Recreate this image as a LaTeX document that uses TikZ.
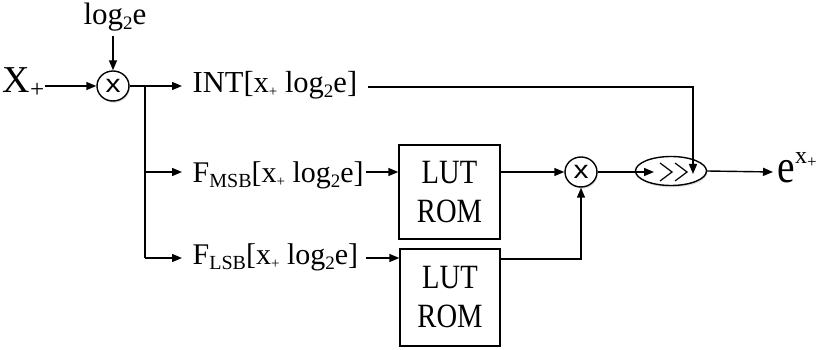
\documentclass[tikz,border=0pt]{standalone}
\usepackage{fontspec}
\setmainfont{Liberation Serif}
\newfontfamily\sansf{Liberation Sans}
\newfontfamily\narrowf[FakeStretch=0.84]{Liberation Serif}
\newfontfamily\plainf{Liberation Serif}
\usetikzlibrary{arrows.meta,shapes.geometric,shadows}
\newcommand{\sbx}[2]{\raisebox{#1}{\fontsize{19}{19}\selectfont #2}}
\newcommand{\sbb}[1]{\raisebox{-5pt}{\fontsize{20}{20}\selectfont #1}}
\begin{document}
\begin{tikzpicture}[x=1pt,y=-1pt,
  line width=1.4pt,
  >={Triangle[length=10pt,width=8pt]},
  lbl/.style={inner sep=0pt,anchor=base west,font=\fontsize{30.5}{31}\selectfont},
  flbl/.style={lbl,font=\fontsize{30}{31}\selectfont},
  mult/.style={draw,ellipse,fill=white,minimum width=32pt,minimum height=30pt,inner sep=0pt,
    font=\sansf\fontsize{25}{25}\selectfont,
    drop shadow={opacity=0.25,shadow xshift=0.8pt,shadow yshift=-1.8pt}},
  lut/.style={draw,rectangle,inner sep=0pt,align=center,font=\narrowf\fontsize{34}{39}\selectfont}]
\useasboundingbox (0,0) rectangle (820,350);
% inputs
\node[inner sep=0pt,anchor=base west,font=\fontsize{38}{38}\selectfont] (xin) at (2,93) {X\raisebox{-5pt}{\fontsize{25}{25}\selectfont +}};
\node[inner sep=0pt,anchor=base,font=\fontsize{31}{31}\selectfont] (lg) at (115,25) {log\sbx{-5pt}{2}e};
\node[mult] (m1) at (113,86) {\scalebox{1.2}[1]{x}};
\coordinate (lgb) at (113,36);
\draw[->] (lgb) -- (m1.north);
\coordinate (xe) at (45,86);
\draw[->] (xe) -- (m1.west);
% labels
\node[lbl] (int) at (192,93) {INT[x\sbx{-4pt}{\fontsize{15}{15}\selectfont +} log\sbx{-5pt}{2}e]};
\node[flbl] (fm) at (192,183) {F\sbb{MSB}[x\sbx{-4pt}{\fontsize{15}{15}\selectfont +} log\sbx{-5pt}{2}e]};
\node[flbl] (fl) at (192,265) {F\sbb{LSB}[x\sbx{-4pt}{\fontsize{15}{15}\selectfont +} log\sbx{-5pt}{2}e]};
\coordinate (br) at (145,86);
\coordinate (intw) at (182,86);
\coordinate (fmw) at (182,172);
\coordinate (flw) at (182,258);
\draw[->] (m1.east) -- (br) -- (intw);
\draw (br) -- (145,258);
\draw[->] (145,172) -- (fmw);
\draw[->] (145,258) -- (flw);
% LUTs
\node[lut,minimum width=101pt,minimum height=94pt] (lut1) at (449.5,192) {LUT\\ROM};
\node[lut,minimum width=100pt,minimum height=97pt] (lut2) at (450,297.5) {LUT\\ROM};
\coordinate (fme) at (366,172);
\coordinate (fle) at (366,258);
\draw[->] (fme) -- (fme -| lut1.west);
\draw[->] (fle) -- (fle -| lut2.west);
% second multiplier
\node[mult] (m2) at (581,172) {\scalebox{1.2}[1]{x}};
\draw[->] (lut1.east |- m2) -- (m2.west);
\coordinate (l2o) at (lut2.east |- 0,259);
\draw[->] (l2o) -- (l2o -| m2) -- (m2.south);
% shifter
\node[draw,ellipse,fill=white,minimum width=71pt,minimum height=29pt,inner sep=0pt,
  drop shadow={opacity=0.25,shadow xshift=0.8pt,shadow yshift=-1.8pt}] (sh) at (671,171) {};
\coordinate (shin) at (654,172);
\draw[->] (m2.east) -- (shin);
\draw[line width=1.2pt] (660,163) -- (672,172) -- (660,181);
\draw[line width=1.2pt] (675,163) -- (687,172) -- (675,181);
\coordinate (inte) at (368,87);
\coordinate (shtop) at (693,174);
\draw[->] (inte) -- (inte -| shtop) -- (shtop);
% output
\node[inner sep=0pt,anchor=base west,font=\narrowf\fontsize{47}{47}\selectfont] (eo) at (777,183) {e\raisebox{20pt}{\plainf\fontsize{24}{24}\selectfont x\raisebox{-4pt}{\fontsize{17}{17}\selectfont +}}};
\coordinate (eow) at (773,172);
\draw[->] (sh.east) -- (eow);
\end{tikzpicture}
\end{document}
